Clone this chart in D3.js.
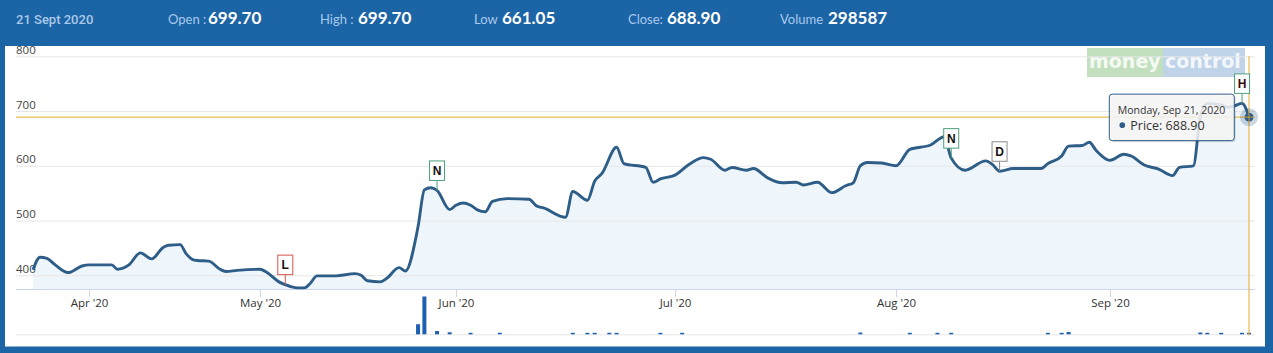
<!DOCTYPE html>
<html>
<head>
<meta charset="utf-8">
<script src="https://cdn.jsdelivr.net/npm/d3@7"></script>
<style>
  body { margin: 0; background: #1b64a6; }
  svg { display: block; }
</style>
</head>
<body>
<div id="chart-area"></div>
<script>
const canvas_width = 1273;
const canvas_height = 353;

// ---- data ----
const sessionDate = '21 Sept 2020';
const headerLabels = ['Open :', 'High :', 'Low', 'Close:', 'Volume'];
const headerValues = ['699.70', '699.70', '661.05', '688.90', '298587'];

const priceDates = [
    '2020-03-24', '2020-03-25', '2020-03-26', '2020-03-27', '2020-03-29', '2020-03-31',
    '2020-04-01', '2020-04-05', '2020-04-06', '2020-04-08', '2020-04-10', '2020-04-12',
    '2020-04-14', '2020-04-15', '2020-04-17', '2020-04-18', '2020-04-19', '2020-04-20',
    '2020-04-22', '2020-04-24', '2020-04-25', '2020-04-27',
    '2020-05-01', '2020-05-02', '2020-05-04', '2020-05-05', '2020-05-06', '2020-05-07',
    '2020-05-08', '2020-05-09', '2020-05-10', '2020-05-13', '2020-05-16', '2020-05-17',
    '2020-05-18', '2020-05-20', '2020-05-21', '2020-05-23', '2020-05-24', '2020-05-26',
    '2020-05-27', '2020-05-28', '2020-05-29', '2020-05-31',
    '2020-06-01', '2020-06-02', '2020-06-03', '2020-06-04', '2020-06-05', '2020-06-06',
    '2020-06-08', '2020-06-11', '2020-06-12', '2020-06-13', '2020-06-16', '2020-06-17',
    '2020-06-19', '2020-06-20', '2020-06-21', '2020-06-23', '2020-06-24', '2020-06-27',
    '2020-06-28', '2020-06-29',
    '2020-07-01', '2020-07-03', '2020-07-05', '2020-07-06', '2020-07-08', '2020-07-09',
    '2020-07-11', '2020-07-12', '2020-07-14', '2020-07-16', '2020-07-18', '2020-07-19',
    '2020-07-21', '2020-07-23', '2020-07-25', '2020-07-26', '2020-07-27', '2020-07-28',
    '2020-07-30',
    '2020-08-01', '2020-08-03', '2020-08-06', '2020-08-08', '2020-08-09', '2020-08-11',
    '2020-08-14', '2020-08-15', '2020-08-16', '2020-08-18', '2020-08-22', '2020-08-23',
    '2020-08-25', '2020-08-26', '2020-08-28', '2020-08-29', '2020-08-30',
    '2020-09-01', '2020-09-03', '2020-09-04', '2020-09-06', '2020-09-08', '2020-09-10',
    '2020-09-11', '2020-09-13', '2020-09-14', '2020-09-15', '2020-09-17', '2020-09-18',
    '2020-09-19', '2020-09-20', '2020-09-21'
];
const prices = [
    410, 433, 431, 421, 405, 417,
    419, 419, 411, 419, 441, 430,
    451, 455, 456, 440, 430, 427,
    426, 411, 407, 409,
    411, 406, 388, 383, 379, 377,
    377, 386, 399, 399, 403, 400,
    390, 388, 394, 414, 408, 489,
    556, 560, 555, 520,
    528, 532, 528, 519, 516, 535,
    540, 539, 527, 523, 506, 553,
    537, 572, 586, 634, 604, 597,
    570, 576,
    583, 603, 615, 612, 592, 597,
    592, 595, 578, 569, 570, 565,
    570, 551, 564, 569, 600, 606,
    605,
    600, 630, 638, 653, 614, 592,
    609, 602, 590, 595, 595, 604,
    618, 636, 637, 643, 628,
    610, 621, 618, 601, 594, 582,
    597, 600, 690, 714, 711, 707,
    710, 714, 688.90
];

const volumeDates = [
    '2020-05-26', '2020-05-27', '2020-05-29', '2020-05-31', '2020-06-03', '2020-06-07',
    '2020-06-17', '2020-06-19', '2020-06-20', '2020-06-22', '2020-06-23', '2020-06-29',
    '2020-07-02', '2020-07-27', '2020-08-03', '2020-08-07', '2020-08-09', '2020-08-23',
    '2020-08-25', '2020-08-26', '2020-09-14', '2020-09-15', '2020-09-17', '2020-09-20',
    '2020-09-21'
];
const volumes = [
    2000000, 7500000, 650000, 400000, 200000, 300000,
    300000, 250000, 250000, 250000, 250000, 200000,
    200000, 350000, 200000, 250000, 250000, 250000,
    250000, 450000, 350000, 250000, 250000, 250000,
    298587
];

const yTicks = [400, 500, 600, 700, 800];
const monthTicks = ['2020-04-01', '2020-05-01', '2020-06-01', '2020-07-01', '2020-08-01', '2020-09-01'];

const flagDates = ['2020-05-05', '2020-05-29', '2020-08-09', '2020-08-16', '2020-09-20'];
const flagLetters = ['L', 'N', 'N', 'D', 'H'];

const lastDate = '2020-09-21';
const lastPrice = 688.90;
const tooltipDate = 'Monday, Sep 21, 2020';

// ---- layout ----
const plot = { left: 16, right: 1255, top: 56.3, bottom: 289 };
const vol = { top: 296, bottom: 334.3 };
const flagStroke = { L: '#d9534f', N: '#4e9e7c', D: '#8a8a8a', H: '#4e9e7c' };
const flagText = { L: '#111', N: '#111', D: '#111', H: '#3a0a0a' };
const lineColor = '#2e5d87';
const crossColor = '#e8ab2e';

const parse = d3.timeParse('%Y-%m-%d');
const series = priceDates.map((d, i) => ({ date: parse(d), price: prices[i] }));
const volData = volumeDates.map((d, i) => ({ date: parse(d), volume: volumes[i] }));

let canvas = d3.select('#chart-area').append('svg')
    .attr('width', canvas_width)
    .attr('height', canvas_height);

canvas.append('rect')
    .attr('width', canvas_width).attr('height', canvas_height)
    .attr('fill', '#1b64a6');
canvas.append('rect')
    .attr('x', 5).attr('y', 46)
    .attr('width', 1260).attr('height', 300.5)
    .attr('fill', '#ffffff');

// trading-day axis is compressed, so the time scale is piecewise per month
let x = d3.scaleTime()
    .domain(['2020-03-24', '2020-04-01', '2020-05-01', '2020-06-01', '2020-07-01', '2020-08-01', '2020-09-01', '2020-09-21'].map(parse))
    .range([33, 89, 260, 456, 675, 896, 1110, 1249]);

let y = d3.scaleLinear()
    .domain([375, 800])
    .range([plot.bottom, plot.top]);

let yVol = d3.scaleLinear()
    .domain([0, 7600000])
    .range([vol.bottom, vol.top]);

// watermark
let wm = canvas.append('g');
wm.append('rect').attr('x', 1087).attr('y', 48).attr('width', 76).attr('height', 29).attr('fill', '#c2e0be');
wm.append('rect').attr('x', 1163).attr('y', 48).attr('width', 82).attr('height', 29).attr('fill', '#bfd3e9');
wm.append('text').attr('x', 1089).attr('y', 68)
    .attr('font-family', 'DejaVu Sans').attr('font-weight', 'bold').attr('font-size', '19px')
    .attr('fill', '#f4faf3').text('money');
wm.append('text').attr('x', 1165).attr('y', 68)
    .attr('font-family', 'DejaVu Sans').attr('font-weight', 'bold').attr('font-size', '19px')
    .attr('fill', '#f3f7fc').text('control');

// area + line
let area = d3.area()
    .x((d) => x(d.date))
    .y0(plot.bottom)
    .y1((d) => y(d.price))
    .curve(d3.curveMonotoneX);

canvas.append('path')
    .datum(series)
    .attr('d', area)
    .attr('fill', '#eef6fc');

// gridlines + y labels
let leftAxis = d3.axisLeft(y)
    .tickValues(yTicks)
    .tickSize(-(plot.right - plot.left))
    .tickFormat(d3.format('d'));

let gy = canvas.append('g')
    .attr('class', 'left axis')
    .attr('transform', `translate(${plot.left}, 0)`)
    .call(leftAxis);
gy.select('.domain').remove();
gy.selectAll('line').attr('stroke', '#e6e6e6');
gy.selectAll('text')
    .attr('x', 0)
    .attr('dy', '-3')
    .attr('text-anchor', 'start')
    .attr('font-family', 'Open Sans')
    .attr('font-size', '11.5px')
    .attr('fill', '#444');

// x axis
canvas.append('line')
    .attr('x1', plot.left).attr('x2', plot.right)
    .attr('y1', plot.bottom + 0.5).attr('y2', plot.bottom + 0.5)
    .attr('stroke', '#ccd6eb');

let bottomAxis = d3.axisBottom(x)
    .tickValues(monthTicks.map(parse))
    .tickSize(8)
    .tickFormat(d3.timeFormat("%b '%y"));

let gx = canvas.append('g')
    .attr('class', 'bottom axis')
    .attr('transform', `translate(0, ${plot.bottom})`)
    .call(bottomAxis);
gx.select('.domain').remove();
gx.selectAll('line').attr('stroke', '#ccd6eb');
gx.selectAll('text')
    .attr('y', 10)
    .attr('font-family', 'Open Sans')
    .attr('font-size', '11.5px')
    .attr('fill', '#333');

// volume pane
canvas.append('line')
    .attr('x1', plot.left).attr('x2', plot.right)
    .attr('y1', vol.bottom + 0.5).attr('y2', vol.bottom + 0.5)
    .attr('stroke', '#e6e6e6');

canvas.append('g').selectAll('rect')
    .data(volData)
    .enter().append('rect')
    .attr('x', (d) => x(d.date) - 2)
    .attr('width', 4)
    .attr('y', (d) => Math.min(yVol(d.volume), vol.bottom - 1.5))
    .attr('height', (d) => Math.max(vol.bottom - yVol(d.volume), 1.5))
    .attr('fill', '#1d5fb0');

// price line
let line = d3.line()
    .x((d) => x(d.date))
    .y((d) => y(d.price))
    .curve(d3.curveMonotoneX);

canvas.append('path')
    .datum(series)
    .attr('d', line)
    .attr('fill', 'none')
    .attr('stroke', lineColor)
    .attr('stroke-width', 2.9)
    .attr('stroke-linejoin', 'round');

// crosshair
const lx = x(parse(lastDate));
const ly = y(lastPrice);
canvas.append('line')
    .attr('x1', plot.left).attr('x2', lx)
    .attr('y1', ly).attr('y2', ly)
    .attr('stroke', crossColor).attr('stroke-width', 1);
canvas.append('line')
    .attr('x1', lx).attr('x2', lx)
    .attr('y1', plot.top).attr('y2', vol.bottom + 1)
    .attr('stroke', crossColor).attr('stroke-width', 1);

// flags
const priceByDate = new Map(priceDates.map((d, i) => [d, prices[i]]));
let flags = canvas.append('g').selectAll('g')
    .data(flagDates.map((d, i) => ({ date: parse(d), price: priceByDate.get(d), letter: flagLetters[i] })))
    .enter().append('g')
    .attr('transform', (d) => `translate(${x(d.date)}, ${y(d.price)})`);

flags.append('line')
    .attr('x1', 0).attr('x2', 0)
    .attr('y1', 0).attr('y2', -10)
    .attr('stroke', (d) => flagStroke[d.letter]);
flags.append('rect')
    .attr('x', -7.5).attr('y', -29.5)
    .attr('width', 15).attr('height', 19.5)
    .attr('fill', '#fff')
    .attr('stroke', (d) => flagStroke[d.letter]);
flags.append('text')
    .attr('x', 0).attr('y', -15.5)
    .attr('text-anchor', 'middle')
    .attr('font-family', 'Liberation Sans')
    .attr('font-weight', 'bold')
    .attr('font-size', '12px')
    .attr('fill', (d) => flagText[d.letter])
    .text((d) => d.letter);

// hover marker
canvas.append('circle').attr('cx', lx).attr('cy', ly).attr('r', 9)
    .attr('fill', lineColor).attr('opacity', 0.25);
canvas.append('circle').attr('cx', lx).attr('cy', ly).attr('r', 4.5)
    .attr('fill', lineColor);
canvas.append('line').attr('x1', lx - 6).attr('x2', lx + 6).attr('y1', ly).attr('y2', ly)
    .attr('stroke', crossColor).attr('stroke-width', 0.8);
canvas.append('line').attr('x1', lx).attr('x2', lx).attr('y1', ly - 6).attr('y2', ly + 6)
    .attr('stroke', crossColor).attr('stroke-width', 0.8);

// tooltip
let tip = canvas.append('g').attr('transform', `translate(${lx - 139.7}, ${ly - 23})`);
tip.append('rect')
    .attr('x', 1.5).attr('y', 1.5)
    .attr('width', 125).attr('height', 46.5).attr('rx', 3)
    .attr('fill', '#000').attr('opacity', 0.12);
tip.append('rect')
    .attr('width', 125).attr('height', 46.5).attr('rx', 3)
    .attr('fill', 'rgba(248,248,248,0.86)')
    .attr('stroke', '#2e5d87').attr('stroke-width', 1);
tip.append('text')
    .attr('x', 8.5).attr('y', 20)
    .attr('font-family', 'Open Sans').attr('font-size', '10.5px')
    .attr('fill', '#333').text(tooltipDate);
tip.append('circle').attr('cx', 13).attr('cy', 31).attr('r', 2.8).attr('fill', lineColor);
tip.append('text')
    .attr('x', 21).attr('y', 35.5)
    .attr('font-family', 'Open Sans').attr('font-size', '12.5px')
    .attr('fill', '#333').text('Price: ' + d3.format('.2f')(lastPrice));

// header band (drawn last so it covers the clipped 800 label)
canvas.append('rect')
    .attr('width', canvas_width).attr('height', 46)
    .attr('fill', '#1b64a6');

canvas.append('text')
    .attr('x', 16).attr('y', 24)
    .attr('font-family', 'Roboto').attr('font-weight', 500).attr('font-size', '13px')
    .attr('fill', '#aac8e8')
    .text(sessionDate);

const labelX = [168, 320, 474, 628, 780];
const valueX = [208, 358, 502, 667, 828];
headerLabels.forEach((lab, i) => {
    canvas.append('text')
        .attr('x', labelX[i]).attr('y', 24)
        .attr('font-family', 'Lato').attr('font-size', '13px')
        .attr('fill', '#a9c9ec')
        .text(lab);
    canvas.append('text')
        .attr('x', valueX[i]).attr('y', 24)
        .attr('font-family', 'Lato').attr('font-weight', 'bold').attr('font-size', '17px')
        .attr('fill', '#ffffff')
        .text(headerValues[i]);
});
</script>
</body>
</html>
